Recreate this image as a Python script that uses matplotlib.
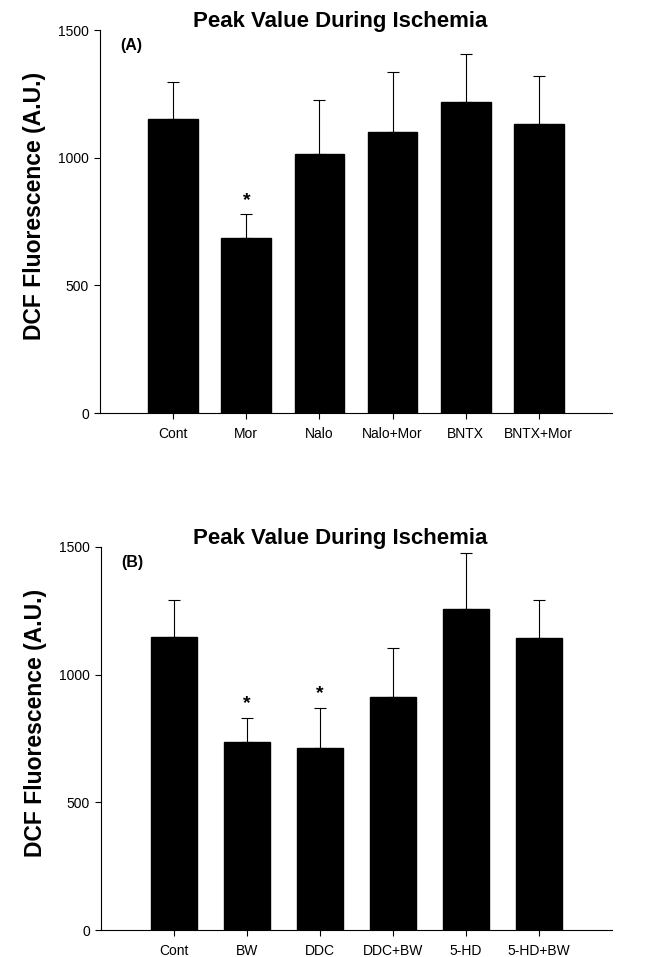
import numpy as np
import matplotlib
matplotlib.use("Agg")
import matplotlib.pyplot as plt

plt.rcParams['font.family'] = ['Liberation Sans', 'DejaVu Sans']

# panel A
labels_a = ['Cont', 'Mor', 'Nalo', 'Nalo+Mor', 'BNTX', 'BNTX+Mor']
means_a = [1150, 687, 1016, 1101, 1219, 1131]
err_a = [145, 91, 209, 236, 186, 189]
star_a = [False, True, False, False, False, False]

# panel B
labels_b = ['Cont', 'BW', 'DDC', 'DDC+BW', '5-HD', '5-HD+BW']
means_b = [1148, 735, 713, 913, 1257, 1142]
err_b = [146, 96, 157, 193, 221, 152]
star_b = [False, True, True, False, False, False]

title = 'Peak Value During Ischemia'
ylabel = 'DCF Fluorescence (A.U.)'

W, H = 649, 957
fig = plt.figure(figsize=(W / 100, H / 100), dpi=100)


def panel(rect, labels, means, err, stars, tag, width):
  ax = fig.add_axes(rect)
  x = np.arange(len(labels))
  ax.bar(x, means, width=width, color='black', edgecolor='black', zorder=2)
  ax.errorbar(x, means, yerr=[np.zeros(len(err)), err], fmt='none',
      ecolor='black', elinewidth=0.8, capsize=4, capthick=0.8, zorder=1)
  for i, s in enumerate(stars):
    if s:
      ax.annotate('*', (x[i], means[i] + err[i]), xytext=(0, 4),
          textcoords='offset points', ha='center', va='bottom',
          fontsize=14, fontweight='bold')
  ax.set_xlim(-1, 6)
  ax.set_ylim(0, 1500)
  ax.set_yticks([0, 500, 1000, 1500])
  ax.set_xticks(x)
  ax.set_xticklabels(labels, fontsize=10)
  ax.tick_params(axis='y', labelsize=10, length=4, width=0.8, direction='out', pad=4)
  ax.tick_params(axis='x', length=4, width=0.8, direction='out', pad=6)
  for s in ['top', 'right']:
    ax.spines[s].set_visible(False)
  for s in ['left', 'bottom']:
    ax.spines[s].set_linewidth(0.8)
  ax.set_ylabel(ylabel, fontsize=16.5, fontweight='bold', labelpad=9)
  ax.yaxis.label.set_y(0.54)
  ax.text(0.469, 1.021, title, transform=ax.transAxes, ha='center',
      va='center', fontsize=16, fontweight='bold')
  ax.text(0.04, 0.96, tag, transform=ax.transAxes, ha='left', va='center',
      fontsize=11.5, fontweight='bold')
  return ax


panel([100 / W, 1 - 413 / H, 512 / W, 383 / H], labels_a, means_a, err_a,
    star_a, '(A)', 0.68)
panel([101 / W, 1 - 930 / H, 511 / W, 383 / H], labels_b, means_b, err_b,
    star_b, '(B)', 0.63)

fig.savefig('out.png', dpi=100)
